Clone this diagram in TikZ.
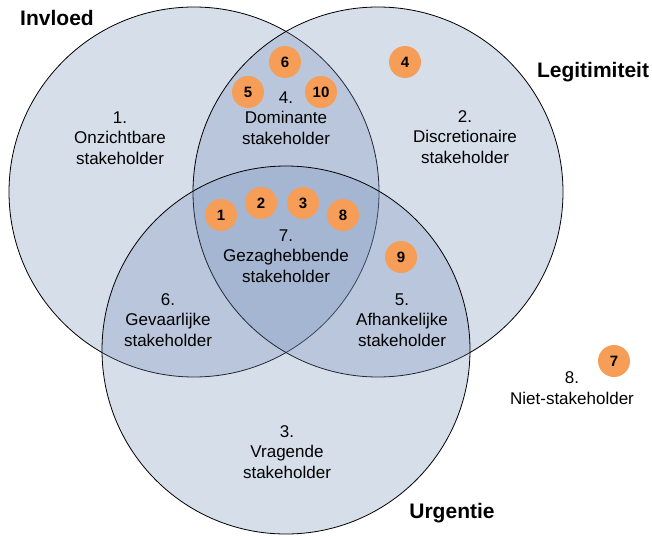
\documentclass[tikz,border=0pt]{standalone}
\usepackage{fontspec}
\setmainfont{Liberation Sans}
\usepackage{xcolor}
\definecolor{vennblue}{RGB}{114, 141, 183}
\definecolor{markorange}{RGB}{246, 158, 88}
\usetikzlibrary{positioning}

\begin{document}
\begin{tikzpicture}[x=1pt, y=-1pt,
    venn/.style={draw=black, line width=0.8pt, fill=vennblue, fill opacity=0.29},
    region/.style={align=center, inner sep=0pt, font=\fontsize{17}{20.5}\selectfont},
    attr/.style={inner sep=0pt, font=\fontsize{21}{24}\selectfont\bfseries},
    marker/.style={circle, fill=markorange, minimum size=32pt, inner sep=0pt, font=\fontsize{15}{18}\selectfont\bfseries}]
    \useasboundingbox (0,0) rectangle (652,535);
    % the three circles
    \draw[venn] (194,192) circle (185);
    \draw[venn] (378,192) circle (185);
    \draw[venn] (286,350) circle (184);
    % attribute names
    \node[attr] (invloed) at (57,18) {Invloed};
    \node[attr] (legitimiteit) at (593,72) {Legitimiteit};
    \node[attr] (urgentie) at (452,513) {Urgentie};
    % stakeholder classes
    \node[region] (onzichtbaar) at (120,138) {1.\\Onzichtbare\\stakeholder};
    \node[region] (discretionair) at (465,137) {2.\\Discretionaire\\stakeholder};
    \node[region] (vragend) at (287,452) {3.\\Vragende\\stakeholder};
    \node[region] (dominant) at (286,118) {4.\\Dominante\\stakeholder};
    \node[region] (afhankelijk) at (402,320) {5.\\Afhankelijke\\stakeholder};
    \node[region] (gevaarlijk) at (168,320) {6.\\Gevaarlijke\\stakeholder};
    \node[region] (gezaghebbend) at (286,256) {7.\\Gezaghebbende\\stakeholder};
    \node[region] (niet) at (572,388) {8.\\Niet-stakeholder};
    % numbered stakeholders
    \foreach \n/\px/\py in {1/221/215, 2/261/203, 3/303/203, 8/343/215,
        5/248/92, 6/285/62, 10/321/92, 4/405/62, 9/401/257, 7/614/361}
        \node[marker] (m\n) at (\px,\py) {\n};
\end{tikzpicture}
\end{document}
